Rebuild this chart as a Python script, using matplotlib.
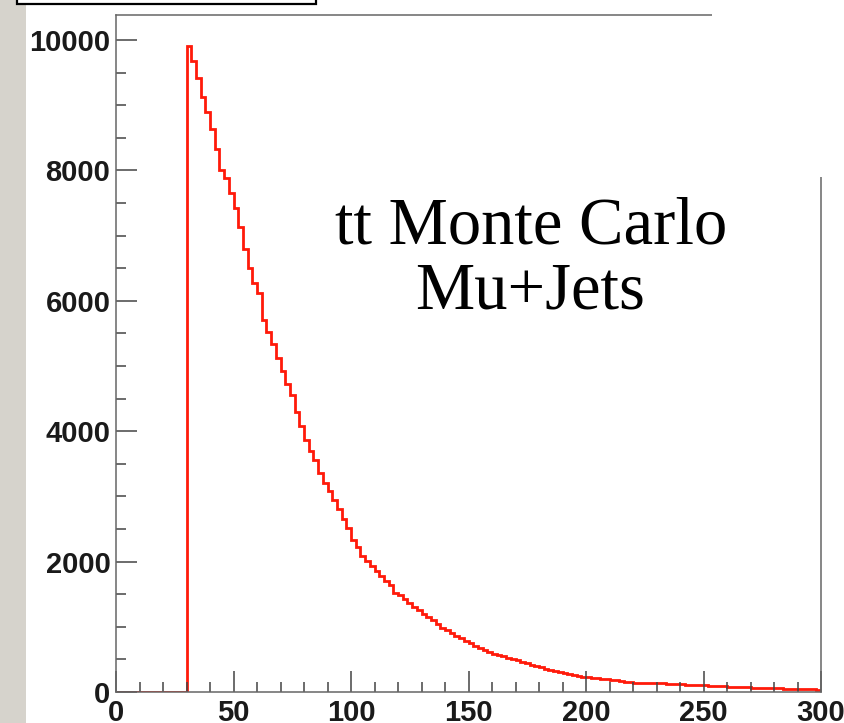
import numpy as np
import matplotlib.pyplot as plt
from matplotlib.patches import Rectangle

# muon pT spectrum, 2 GeV bins from the 30 GeV cut up to 300
bin_lo = 30
bin_hi = 300
bin_w = 2
counts = [
    9900, 9680, 9420, 9120, 8900, 8640, 8330, 8010, 7890, 7650,
    7430, 7130, 6790, 6500, 6280, 6120, 5700, 5520, 5340, 5120,
    4930, 4720, 4560, 4290, 4080, 3860, 3690, 3560, 3360, 3210,
    3080, 2950, 2800, 2660, 2520, 2330, 2230, 2080, 2010, 1930,
    1850, 1780, 1700, 1640, 1520, 1480, 1420, 1360, 1310, 1250,
    1200, 1150, 1100, 1040, 980, 950, 910, 860, 830, 780,
    750, 710, 670, 650, 610, 590, 575, 545, 520, 500,
    490, 460, 445, 420, 405, 385, 360, 345, 320, 300,
    290, 270, 255, 245, 235, 228, 220, 215, 205, 200,
    190, 178, 170, 160, 150, 145, 142, 140, 138, 140,
    135, 132, 130, 126, 122, 118, 115, 112, 108, 105,
    102, 98, 95, 90, 86, 82, 78, 75, 72, 70,
    66, 65, 62, 60, 58, 56, 54, 52, 50, 48,
    46, 44, 42, 40, 36,
]

x_ticks = [0, 50, 100, 150, 200, 250, 300]
y_ticks = [0, 2000, 4000, 6000, 8000, 10000]
label_lines = ["tt Monte Carlo", "Mu+Jets"]

edges = np.concatenate([[0], np.arange(bin_lo, bin_hi + bin_w, bin_w)])
values = np.concatenate([[0], counts])

fig = plt.figure(figsize=(8.44, 7.23), dpi=100)
fig.patch.set_facecolor('white')

# grey strip down the left side
fig.add_artist(Rectangle((0, 0), 26 / 844, 1, transform=fig.transFigure,
                         facecolor='#d6d3cc', edgecolor='none', zorder=-1))

ax = fig.add_axes([116 / 844, 1 - 692 / 723, (821 - 116) / 844, (692 - 15) / 723])
ax.stairs(values, edges, baseline=0, color='#ff1a0a', lw=2.0)

ax.set_xlim(0, 300)
ax.set_ylim(0, 10383)
ax.set_xticks(x_ticks)
ax.set_yticks(y_ticks)
ax.set_xticks(np.arange(0, 301, 10), minor=True)
ax.set_yticks(np.arange(0, 10001, 500), minor=True)

for s in ax.spines.values():
    s.set_color('#666666')
    s.set_linewidth(1.1)

ax.tick_params(which='both', direction='in', color='#444444', width=1.1)
ax.tick_params(which='major', length=15, labelsize=21)
ax.tick_params(axis='y', which='major', pad=4)
ax.tick_params(axis='x', which='major', pad=5)
ax.tick_params(which='minor', length=7.5)
for lab in ax.get_xticklabels() + ax.get_yticklabels():
    lab.set_fontweight('bold')
    lab.set_fontfamily('Liberation Sans')
    lab.set_color('#1a1a1a')

# white box over the top-right corner of the frame
fig.add_artist(Rectangle((712 / 844, 1 - 177 / 723), 1, 1, transform=fig.transFigure,
                         facecolor='white', edgecolor='none', zorder=5))

# title box cut off at the top edge
fig.add_artist(Rectangle((17 / 844, 1 - 4 / 723), (316 - 17) / 844, 0.05,
                         transform=fig.transFigure, facecolor='white',
                         edgecolor='black', lw=1.6, zorder=6, clip_on=False))

fig.text(531 / 844, 1 - 243 / 723, label_lines[0], ha='center', va='baseline',
         fontsize=48, family='Liberation Serif', color='black')
fig.text(530 / 844, 1 - 308 / 723, label_lines[1], ha='center', va='baseline',
         fontsize=48, family='Liberation Serif', color='black')

fig.savefig('out.png', dpi=100)
